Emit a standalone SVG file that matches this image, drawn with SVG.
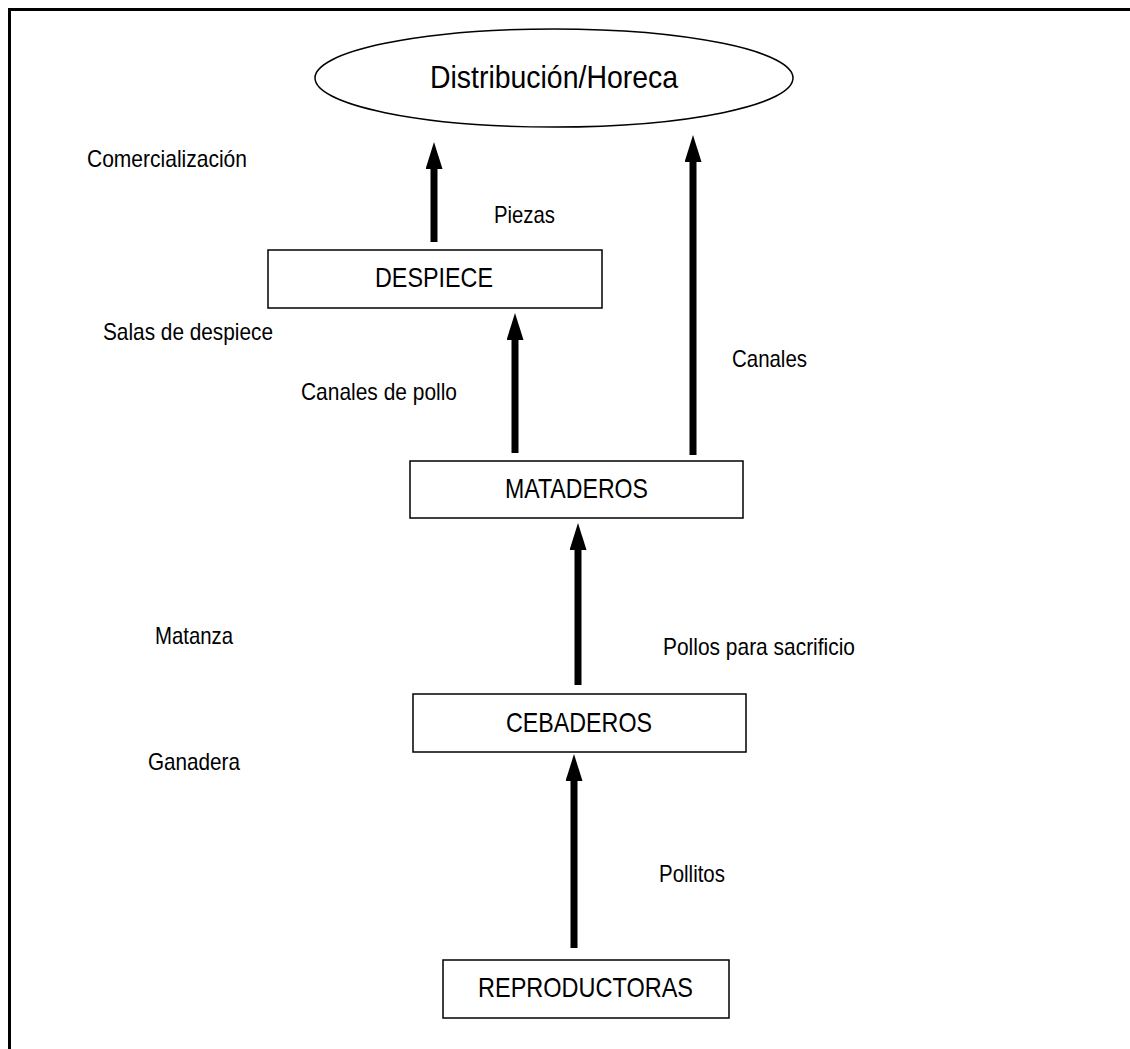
<svg xmlns="http://www.w3.org/2000/svg" width="1130" height="1049" viewBox="0 0 1130 1049">
<style>
text{font-family:"Liberation Sans",Arial,sans-serif;fill:#000}
.lbl{font-size:24px}
.box{font-size:28px}
.ttl{font-size:32px}
.node{fill:#fff;stroke:#000;stroke-width:1.5}
.arr{stroke:#000;stroke-width:7;fill:none;marker-end:url(#ah)}
</style>
<defs>
<marker id="ah" viewBox="0 0 27 17" refX="4" refY="8.5" markerWidth="27" markerHeight="17" markerUnits="userSpaceOnUse" orient="auto">
<path d="M0,0 L27,8.5 L0,17 z" fill="#000"/>
</marker>
</defs>
<rect width="1130" height="1049" fill="#fff"/>
<rect x="9.5" y="9.5" width="1200" height="1100" fill="none" stroke="#000" stroke-width="3"/>
<g id="dist">
<ellipse class="node" cx="554" cy="78" rx="239" ry="49"/>
<text class="ttl" x="430" y="88" textLength="248" lengthAdjust="spacingAndGlyphs">Distribución/Horeca</text>
</g>
<g id="despiece">
<rect class="node" x="268" y="250" width="334" height="58"/>
<text class="box" x="375" y="287" textLength="118" lengthAdjust="spacingAndGlyphs">DESPIECE</text>
</g>
<g id="mataderos">
<rect class="node" x="410" y="461" width="333" height="57"/>
<text class="box" x="505" y="498" textLength="143" lengthAdjust="spacingAndGlyphs">MATADEROS</text>
</g>
<g id="cebaderos">
<rect class="node" x="413" y="694" width="333" height="58"/>
<text class="box" x="506" y="732" textLength="146" lengthAdjust="spacingAndGlyphs">CEBADEROS</text>
</g>
<g id="reproductoras">
<rect class="node" x="443" y="960" width="286" height="58"/>
<text class="box" x="478" y="997" textLength="215" lengthAdjust="spacingAndGlyphs">REPRODUCTORAS</text>
</g>
<g id="connectors">
<line class="arr" x1="434" y1="242" x2="434" y2="165"/>
<line class="arr" x1="693" y1="455" x2="693" y2="158"/>
<line class="arr" x1="515" y1="453" x2="515" y2="336"/>
<line class="arr" x1="578" y1="685" x2="578" y2="546"/>
<line class="arr" x1="574" y1="948" x2="574" y2="777"/>
</g>
<g id="labels">
<text class="lbl" x="87" y="167" textLength="160" lengthAdjust="spacingAndGlyphs">Comercialización</text>
<text class="lbl" x="494" y="223" textLength="61" lengthAdjust="spacingAndGlyphs">Piezas</text>
<text class="lbl" x="103" y="340" textLength="170" lengthAdjust="spacingAndGlyphs">Salas de despiece</text>
<text class="lbl" x="732" y="367" textLength="75" lengthAdjust="spacingAndGlyphs">Canales</text>
<text class="lbl" x="301" y="400" textLength="156" lengthAdjust="spacingAndGlyphs">Canales de pollo</text>
<text class="lbl" x="155" y="644" textLength="78" lengthAdjust="spacingAndGlyphs">Matanza</text>
<text class="lbl" x="663" y="655" textLength="192" lengthAdjust="spacingAndGlyphs">Pollos para sacrificio</text>
<text class="lbl" x="148" y="770" textLength="92" lengthAdjust="spacingAndGlyphs">Ganadera</text>
<text class="lbl" x="659" y="882" textLength="66" lengthAdjust="spacingAndGlyphs">Pollitos</text>
</g>
</svg>
